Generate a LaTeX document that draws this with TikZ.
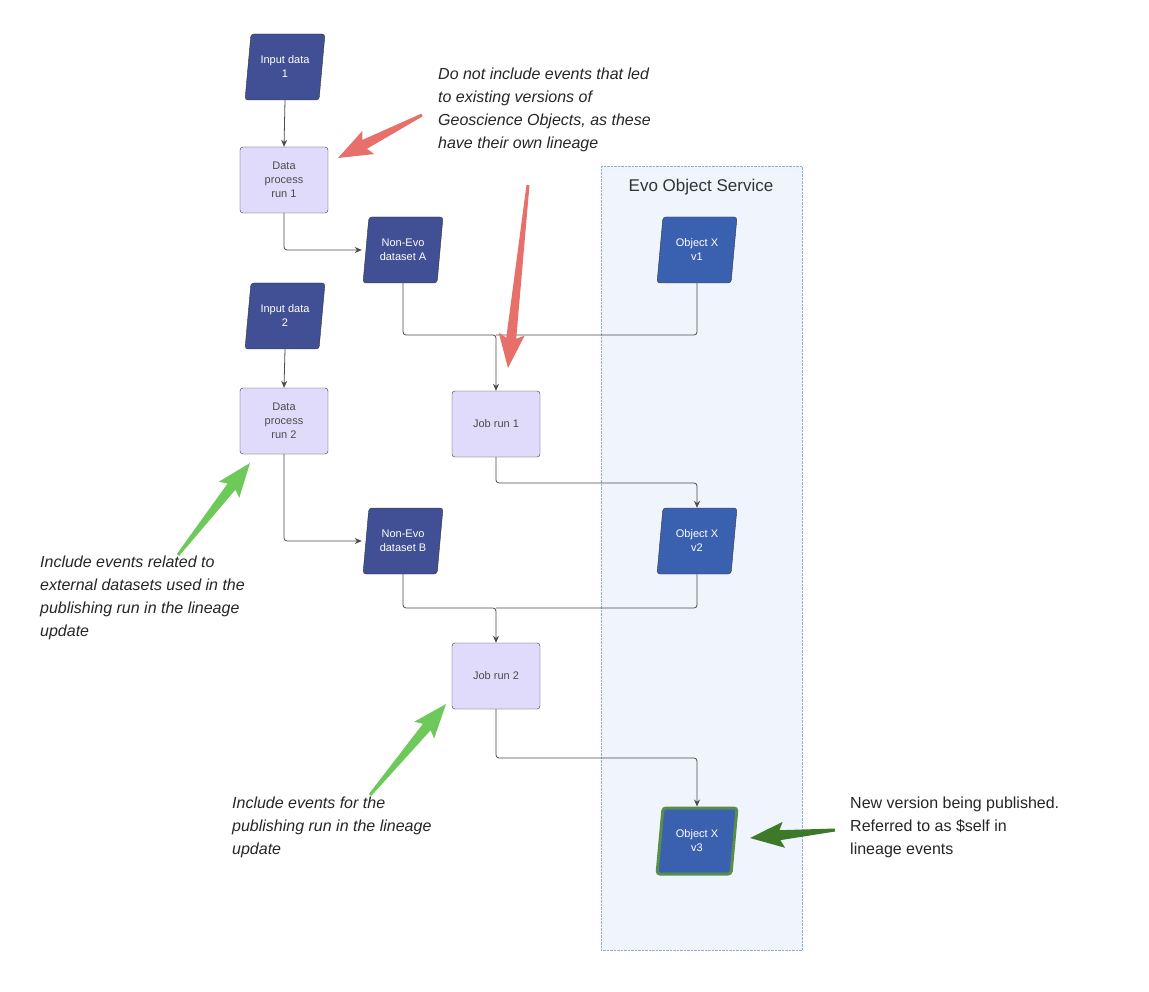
\documentclass[tikz,border=0pt]{standalone}
\usepackage{fontspec}
\setmainfont{Liberation Sans}
\usetikzlibrary{shapes.geometric,calc,arrows.meta}
\definecolor{dkp}{HTML}{414F94}
\definecolor{objb}{HTML}{3A61B0}
\definecolor{proc}{HTML}{E0DBFB}
\definecolor{redA}{HTML}{E8706A}
\definecolor{grnA}{HTML}{6CC95A}
\definecolor{dgrn}{HTML}{3C7A2A}
\definecolor{cont}{HTML}{EFF4FD}
\definecolor{contb}{HTML}{8FAEDB}
\newcommand\fatarr[3]{%
  \fill[#3] ($(#1)!1.5pt!90:(#2)$) -- ($($(#2)!30pt!(#1)$)!5pt!-90:(#1)$) -- ($($(#2)!34pt!(#1)$)!13pt!-90:(#1)$) -- (#2)
   -- ($($(#2)!34pt!(#1)$)!13pt!90:(#1)$) -- ($($(#2)!30pt!(#1)$)!5pt!90:(#1)$) -- ($(#1)!1.5pt!-90:(#2)$) -- cycle;}
\begin{document}
\begin{tikzpicture}[x=1pt,y=-1pt,
  para/.style={trapezium,trapezium left angle=76,trapezium right angle=104,trapezium stretches body,minimum width=80pt,minimum height=66pt,rounded corners=3pt,draw=black!80,fill=dkp,text=white,align=center,font=\fontsize{11}{14}\selectfont,inner sep=1pt},
  obj/.style={para,fill=objb},
  proc/.style={rectangle,rounded corners=3pt,draw=black!80,fill=proc,text=black!70,align=center,minimum width=88pt,minimum height=66pt,font=\fontsize{11}{14}\selectfont},
  conn/.style={draw=black!70,line width=0.8pt,rounded corners=3pt},
  arr/.style={conn,-{Stealth[length=7pt,width=6pt]}},
  ann/.style={align=left,anchor=north west,font=\fontsize{16}{23}\selectfont\itshape,text=black!85,inner sep=0pt}]
\useasboundingbox (0,0) rectangle (1149,992);
\fill[white] (0,0) rectangle (1149,992);
\node[draw=contb,densely dotted,fill=cont,minimum width=201pt,minimum height=784pt,anchor=north west,inner sep=0pt] (svc) at (601,166) {};
\node[anchor=center,font=\fontsize{17}{20}\selectfont,text=black!80] (svct) at (701,187) {Evo Object Service};

\node[para] (in1) at (285,67) {Input data\\1};
\node[proc] (dp1) at (284,180) {Data\\process\\run 1};
\node[para] (na) at (403,250) {Non-Evo\\dataset A};
\node[para] (in2) at (285,316) {Input data\\2};
\node[proc] (dp2) at (284,421) {Data\\process\\run 2};
\node[proc] (j1) at (496,424) {Job run 1};
\node[obj] (v1) at (697,250) {Object X\\v1};
\node[para] (nb) at (403,541) {Non-Evo\\dataset B};
\node[obj] (v2) at (697,541) {Object X\\v2};
\node[proc] (j2) at (496,676) {Job run 2};
\node[obj,draw=dgrn!85,line width=3pt] (v3) at (697,841) {Object X\\v3};

\draw[arr] (in1.south) -- (dp1.north);
\draw[arr] (dp1.south) |- ($(na.west)+(-4,0)$);
\draw[arr] (na.south) |- (496,335) -- (j1.north);
\draw[conn] (v1.south) |- (496,335);
\draw[arr] (in2.south) -- (dp2.north);
\draw[arr] (dp2.south) |- ($(nb.west)+(-4,0)$);
\draw[arr] (j1.south) |- (697,483) -- (v2.north);
\draw[arr] (nb.south) |- (496,608) -- (j2.north);
\draw[conn] (v2.south) |- (496,608);
\draw[arr] (j2.south) |- (697,758) -- (v3.north);

\coordinate (r1s) at (422,115); \coordinate (r1t) at (338,158);
\coordinate (r2s) at (528,185); \coordinate (r2t) at (508,368);
\coordinate (g1s) at (178,555); \coordinate (g1t) at (250,463);
\coordinate (g2s) at (370,795); \coordinate (g2t) at (446,704);
\coordinate (d1s) at (835,830); \coordinate (d1t) at (750,838);
\fatarr{r1s}{r1t}{redA}
\fatarr{r2s}{r2t}{redA}
\fatarr{g1s}{g1t}{grnA}
\fatarr{g2s}{g2t}{grnA}
\fatarr{d1s}{d1t}{dgrn}

\node[ann] (t1) at (438,68) {Do not include events that led\\to existing versions of\\Geoscience Objects, as these\\have their own lineage};
\node[ann] (t2) at (40,556) {Include events related to\\external datasets used in the\\publishing run in the lineage\\update};
\node[ann] (t3) at (232,797) {Include events for the\\publishing run in the lineage\\update};
\node[ann,font=\fontsize{16}{23}\selectfont] (t4) at (850,797) {New version being published.\\Referred to as \$self in\\lineage events};
\end{tikzpicture}
\end{document}
